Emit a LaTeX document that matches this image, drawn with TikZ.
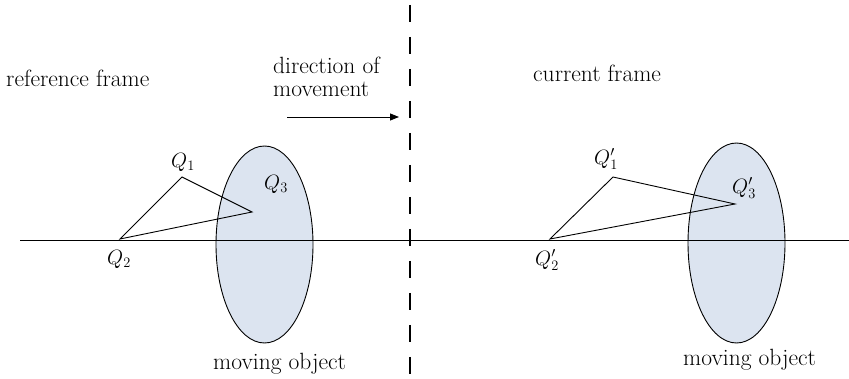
\documentclass[tikz,border=0pt]{standalone}
\usetikzlibrary{arrows.meta,shapes.geometric}
\definecolor{objfill}{RGB}{220,228,240}
\begin{document}
\begin{tikzpicture}[x=1pt,y=-1pt,
  lbl/.style={inner sep=0pt,font=\fontsize{23.5}{23}\selectfont},
  ql/.style={inner sep=0pt,font=\fontsize{21}{24}\selectfont},
  obj/.style={draw,fill=objfill,line width=0.9pt},
  edge/.style={line width=0.9pt}]
\useasboundingbox (0,0) rectangle (849,379);
% ellipses
\node[obj,ellipse,minimum width=97,minimum height=197,inner sep=0pt] (E1) at (264.5,244.5) {};
\node[obj,ellipse,minimum width=97,minimum height=200,inner sep=0pt] (E2) at (736.5,243) {};
% horizontal line
\coordinate (hl) at (20,240);
\coordinate (hr) at (849,240);
\draw[edge] (hl) -- (hr);
% dashed divider
\coordinate (dt) at (410,0);
\coordinate (db) at (410,379);
\draw[line width=2.6pt,dash pattern=on 17.5pt off 14.5pt,dash phase=27pt] (dt) -- (db);
% left triangle
\coordinate (Q1) at (182,177);
\coordinate (Q2) at (120,239);
\coordinate (Q3) at (252,212);
\draw[edge] (Q2) -- (Q1) -- (Q3) -- cycle;
% right triangle
\coordinate (P1) at (613,177);
\coordinate (P2) at (550,239);
\coordinate (P3) at (735,204);
\draw[edge] (P2) -- (P1) -- (P3) -- cycle;
% labels
\node[ql] (lQ1) at (183,162) {$Q_1$};
\node[ql] (lQ2) at (119,259) {$Q_2$};
\node[ql] (lQ3) at (276,184) {$Q_3$};
\node[ql] (lP1) at (606,159) {$Q_1'$};
\node[ql] (lP2) at (547,260) {$Q_2'$};
\node[ql] (lP3) at (744,188) {$Q_3'$};
\node[lbl,anchor=base west] (rf) at (6,87) {reference frame};
\node[lbl,anchor=base west] (cf) at (533,82) {current frame};
\node[lbl,anchor=north west,align=left] (dir) at (273,57) {direction of\\movement};
\node[lbl,anchor=base west] (mo1) at (213,370) {moving object};
\node[lbl,anchor=base west] (mo2) at (683,366) {moving object};
% arrow
\coordinate (as) at (287,117);
\coordinate (ae) at (399,117);
\draw[edge,-{Triangle[length=9pt,width=7pt]}] (as) -- (ae);
\end{tikzpicture}
\end{document}
